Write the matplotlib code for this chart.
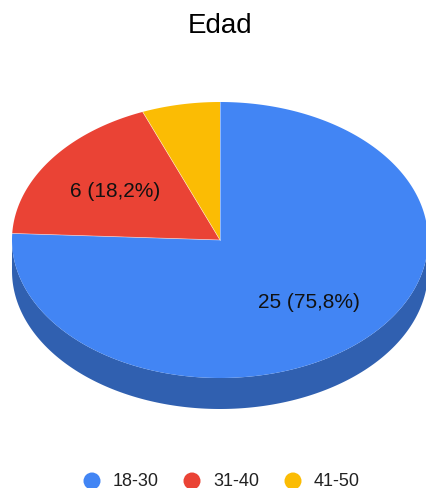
import numpy as np
import matplotlib
matplotlib.use("Agg")
import matplotlib.pyplot as plt
from matplotlib.patches import Polygon, Circle
from matplotlib.colors import to_rgb

categories = ["18-30", "31-40", "41-50"]
counts = [25, 6, 2]
labels = ["25 (75,8%)", "6 (18,2%)", ""]
colors = ["#4285F4", "#EA4335", "#FBBC04"]
title = "Edad"

W, H = 427, 489
fig = plt.figure(figsize=(W / 100, H / 100), dpi=100)
ax = fig.add_axes([0, 0, 1, 1])
ax.set_xlim(0, W)
ax.set_ylim(H, 0)
ax.axis("off")
plt.rcParams["font.family"] = ["Liberation Sans", "DejaVu Sans"]

cx, cy, rx, ry, depth = 220, 241, 208, 138, 31


def pt(theta_deg, dy=0):
    t = np.radians(theta_deg)
    return cx + rx * np.sin(t), cy - ry * np.cos(t) + dy


def darker(c, f=0.72):
    r, g, b = to_rgb(c)
    return (r * f, g * f, b * f)


total = sum(counts)
bounds = np.concatenate([[0], np.cumsum(counts) / total * 360])

# side walls (front half: 90..270 degrees clockwise from top)
for i, c in enumerate(colors):
    a0, a1 = max(bounds[i], 90), min(bounds[i + 1], 270)
    if a1 <= a0:
        continue
    th = np.linspace(a0, a1, 200)
    top = [pt(t) for t in th]
    bot = [pt(t, depth) for t in th[::-1]]
    ax.add_patch(Polygon(top + bot, closed=True, facecolor=darker(c), edgecolor="none"))

# top faces
for i, c in enumerate(colors):
    th = np.linspace(bounds[i], bounds[i + 1], 300)
    verts = [(cx, cy)] + [pt(t) for t in th]
    ax.add_patch(Polygon(verts, closed=True, facecolor=c, edgecolor="none"))

# thin light separators between slices
for b in bounds[:-1]:
    x1, y1 = pt(b)
    ax.plot([cx, x1], [cy, y1], color="white", lw=0.5, alpha=0.6)

# labels
for i, lab in enumerate(labels):
    if not lab:
        continue
    mid = np.radians((bounds[i] + bounds[i + 1]) / 2)
    x = cx + 0.62 * rx * np.sin(mid)
    y = cy - 0.62 * ry * np.cos(mid)
    ax.text(x, y, lab, fontsize=15, ha="center", va="center", color="#111111")

ax.text(220, 26, title, fontsize=20, ha="center", va="center", color="#000000")

# legend
lx = [92, 192, 293]
for x, c, cat in zip(lx, colors, categories):
    ax.add_patch(Circle((x, 482), 8.5, facecolor=c, edgecolor="none"))
    ax.text(x + 21, 482, cat, fontsize=13, ha="left", va="center", color="#222222")

fig.savefig("out.png", dpi=100)
